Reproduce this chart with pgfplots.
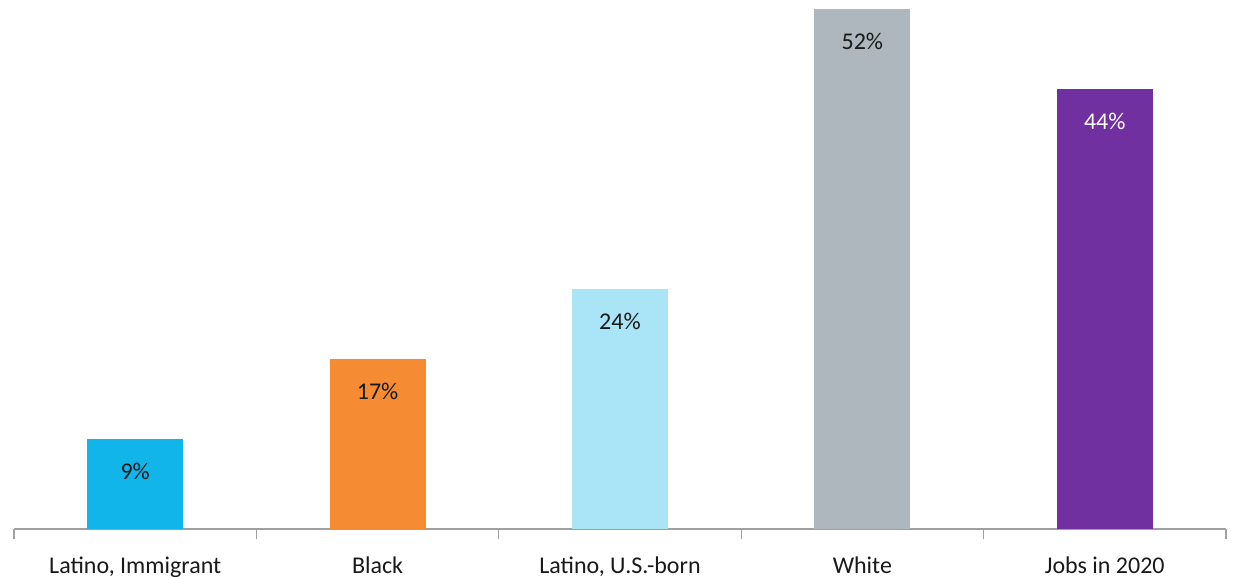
\documentclass[border=0pt]{standalone}
\usepackage{pgfplots}
\pgfplotsset{compat=1.18}
\usepackage{fontspec}
\setmainfont{Carlito}
\definecolor{c1}{HTML}{12B5EA}
\definecolor{c2}{HTML}{F58B33}
\definecolor{c3}{HTML}{AAE5F7}
\definecolor{c4}{HTML}{ADB7BD}
\definecolor{c5}{HTML}{70309F}
\definecolor{axgray}{HTML}{A0A0A0}
\begin{document}
\begin{tikzpicture}
\begin{axis}[
  at={(14bp,48bp)}, anchor=south west,
  scale only axis, width=1212bp, height=529bp,
  xmin=-0.5, xmax=4.5, ymin=0, ymax=52.9,
  axis x line*=bottom, axis y line=none,
  /pgf/number format/assume math mode=true,
  x axis line style={draw=axgray, line width=1.3bp},
  xtick={0,1,2,3,4},
  xticklabels={{Latino, Immigrant},Black,{Latino, U.S.-born},White,Jobs in 2020},
  major tick length=0pt,
  extra x ticks={-0.5,0.5,1.5,2.5,3.5,4.5},
  extra x tick labels={},
  extra x tick style={major tick length=10bp, tick align=outside, tick style={draw=axgray, line width=1.3bp}},
  xticklabel style={anchor=base, yshift=-44bp, text=black!90, font=\fontsize{24bp}{28bp}\selectfont},
  ybar, bar width=96bp, bar shift=0pt,
  clip=false,
  nodes near coords={\pgfmathprintnumber[assume math mode=true]{\pgfplotspointmeta}\%},
  every node near coord/.style={anchor=base, yshift=-41bp, font=\fontsize{24bp}{28bp}\selectfont},
]
\addplot[fill=c1, draw=none, every node near coord/.append style={text=black!90}] coordinates {(0,9)};
\addplot[fill=c2, draw=none, every node near coord/.append style={text=black!90}] coordinates {(1,17)};
\addplot[fill=c3, draw=none, every node near coord/.append style={text=black!90}] coordinates {(2,24)};
\addplot[fill=c4, draw=none, every node near coord/.append style={text=black!90}] coordinates {(3,52)};
\addplot[fill=c5, draw=none, every node near coord/.append style={text=white}] coordinates {(4,44)};
\end{axis}
\pgfresetboundingbox
\path (0,0) rectangle (1234bp,577bp);
\end{tikzpicture}
\end{document}
